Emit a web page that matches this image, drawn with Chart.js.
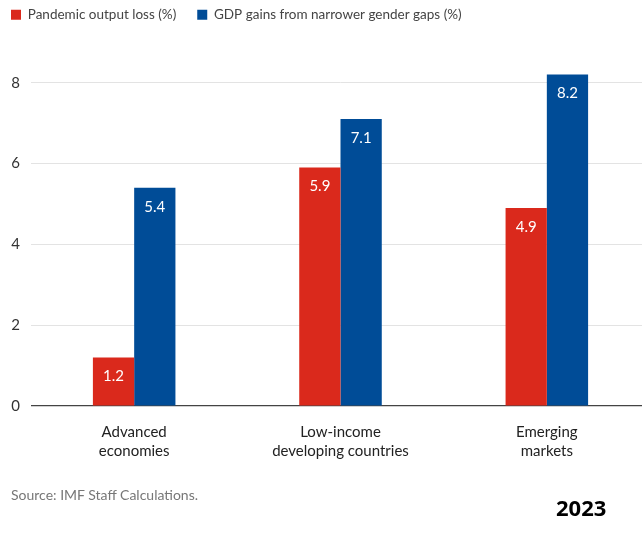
<!DOCTYPE html>
<html>
<head>
<meta charset="utf-8">
<script src="https://cdn.jsdelivr.net/npm/chart.js@4.4.0/dist/chart.umd.min.js"></script>
<style>
  html, body { margin: 0; padding: 0; background: #fff; overflow: hidden; width: 642px; height: 538px; }
  #wrap { position: relative; width: 650px; height: 538px; }
  canvas { display: block; }
  #source { position: absolute; left: 11px; top: 486px; font-family: Lato, sans-serif; font-size: 14px; color: #777; }
  #year { position: absolute; left: 556px; top: 492px; font-family: "Open Sans", sans-serif; font-weight: bold; font-size: 22px; color: #000; }
</style>
</head>
<body>
<div id="wrap">
  <canvas id="c" width="650" height="538"></canvas>
  <div id="source">Source: IMF Staff Calculations.</div>
  <div id="year">2023</div>
</div>
<script>
const categories = [["Advanced", "economies"], ["Low-income", "developing countries"], ["Emerging", "markets"]];
const seriesNames = ["Pandemic output loss (%)", "GDP gains from narrower gender gaps (%)"];
const pandemicLoss = [1.2, 5.9, 4.9];
const gdpGains = [5.4, 7.1, 8.2];
const yTicks = [0, 2, 4, 6, 8];

const RED = "#DA291C";
const BLUE = "#004C97";

const valueLabels = {
  id: "valueLabels",
  afterDatasetsDraw(chart) {
    const ctx = chart.ctx;
    ctx.save();
    ctx.fillStyle = "#fff";
    ctx.font = "15px Lato, sans-serif";
    ctx.textAlign = "center";
    ctx.textBaseline = "middle";
    chart.data.datasets.forEach((ds, i) => {
      chart.getDatasetMeta(i).data.forEach((bar, j) => {
        ctx.fillText(ds.data[j].toFixed(1), bar.x, bar.y + 19);
      });
    });
    ctx.restore();
  }
};

const legendSpace = {
  id: "legendSpace",
  beforeInit(chart) {
    const orig = chart.legend.fit;
    chart.legend.fit = function () {
      orig.bind(chart.legend)();
      this.height += 31;
    };
  }
};

new Chart(document.getElementById("c"), {
  type: "bar",
  data: {
    labels: categories,
    datasets: [
      { label: seriesNames[0], data: pandemicLoss, backgroundColor: RED },
      { label: seriesNames[1], data: gdpGains, backgroundColor: BLUE }
    ]
  },
  options: {
    responsive: false,
    animation: false,
    devicePixelRatio: 1,
    layout: { padding: { left: -10, right: 0, top: -13, bottom: 69 } },
    datasets: { bar: { categoryPercentage: 0.4, barPercentage: 1.0 } },
    plugins: {
      legend: {
        position: "top",
        align: "start",
        labels: {
          boxWidth: 10, boxHeight: 10, padding: 21,
          color: "#444",
          font: { family: "Lato, sans-serif", size: 13.5 }
        }
      },
      tooltip: { enabled: false }
    },
    scales: {
      x: {
        grid: { display: false },
        border: { display: false },
        ticks: {
          color: "#222",
          padding: 8,
          font: { family: "Lato, sans-serif", size: 15, lineHeight: 1.3 }
        }
      },
      y: {
        min: 0,
        max: 8.5,
        afterBuildTicks(scale) { scale.ticks = yTicks.map(v => ({ value: v })); },
        afterFit(scale) { scale.width = 41; },
        border: { display: false },
        grid: {
          drawTicks: false,
          color: ctx => ctx.tick && ctx.tick.value === 0 ? "#444" : "#e3e3e3",
          lineWidth: ctx => ctx.tick && ctx.tick.value === 0 ? 1.2 : 1
        },
        ticks: {
          color: "#333",
          padding: 11,
          font: { family: "Lato, sans-serif", size: 15 }
        }
      }
    }
  },
  plugins: [valueLabels, legendSpace]
});
</script>
</body>
</html>
